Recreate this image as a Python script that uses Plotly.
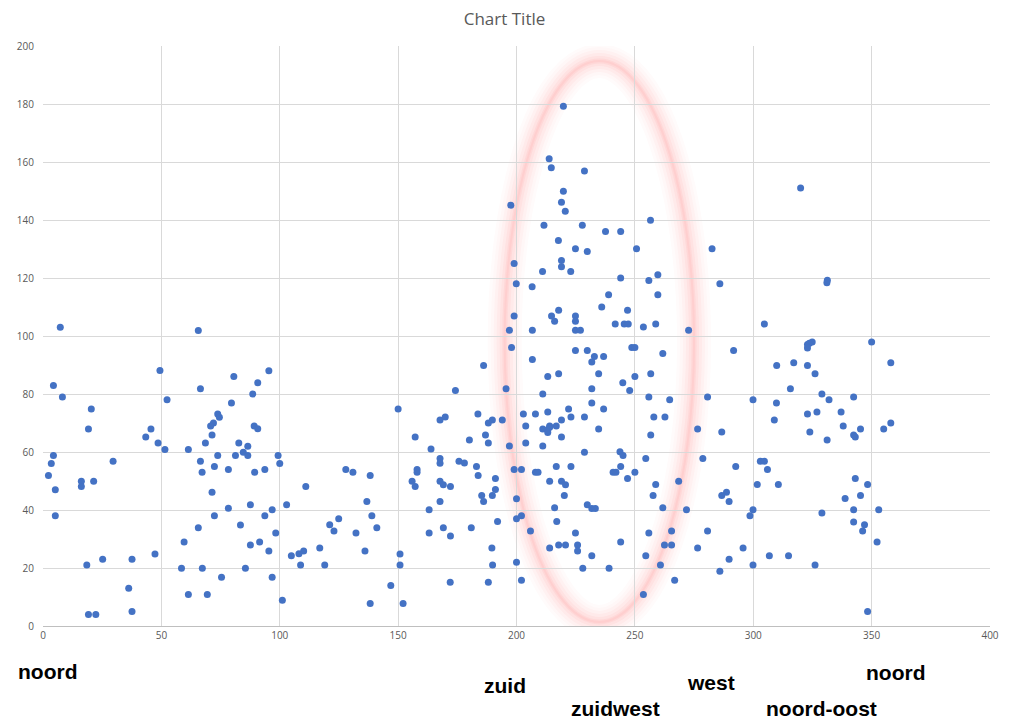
import plotly.graph_objects as go

# wind direction (degrees) vs value
x_vals = [
    7.3, 65.6, 49.4, 95.4, 4.4, 80.6, 90.7, 8.2, 66.5, 88.6, 52.4, 79.6, 20.4, 73.8, 74.5, 72, 70.8, 89.2, 90.7, 19.2,
    45.6, 43.4, 71.4, 48.6, 68.6, 82.7, 51.5, 61.4, 86.5, 84.6, 86.5, 81.3, 73.8, 4.4, 3.5, 29.6, 66.5, 72.4, 2.3, 78.3,
    93.7, 67.2, 89.4, 99.3, 100, 16.2, 16.2, 21.4, 5.2, 71.4, 5.2, 78.3, 87.6, 96.8, 93.7, 72.4, 83.4, 65.6, 98.3, 59.6,
    87.6, 91.5, 95.4, 47.3, 25.2, 37.6, 18.5, 58.5, 67.3, 85.5, 75.4, 96.8, 36.2, 61.4, 69.4, 37.6, 19.2, 22.3,
    199, 197, 197.9, 186.1, 195.6, 174.2, 150, 183.7, 167.7, 169.9, 188.1, 189.8, 194, 186.9, 157.2, 180.1, 188.1, 197, 163.9, 167.7,
    167.7, 175.7, 178, 183.1, 127.9, 130.9, 138.2, 158, 158, 183.8, 191.1, 199, 155.9, 157.2, 167.7, 169.1, 172.1, 111, 191.1, 189.8,
    185.3, 186.1, 167.7, 136.8, 102.9, 200, 163.1, 138.9, 124.9, 121.1, 122.9, 141, 132.2, 163.1, 169.1, 180.9, 172.1, 192, 200, 116.9,
    110.1, 108.1, 104.9, 136, 189.6, 108.8, 119, 150.8, 150.8, 189.9, 200, 172, 188.1, 146.9, 101.1, 138.2, 152.1,
    202.1, 217.8, 214.8, 216.1, 224.9, 224.9, 236, 246.9, 206.7, 224.9, 227, 241.7, 245.5, 247.2, 253.6, 258.8, 272.7, 291.7, 224.9, 229.9,
    232.9, 236.8, 231.8, 248.7, 250, 261.8, 206.7, 213.2, 217.8, 234.7, 244.9, 250, 256.7, 231.8, 247.8, 211.1, 255.9, 264.7, 280.7, 231.8,
    236.8, 222, 213.2, 202.9, 208, 223, 228.7, 258, 262.7, 219, 203.9, 216.8, 214, 211.1, 213.2, 213.2, 214, 234.7, 276.5, 286.7,
    219, 256.7, 203.9, 211.1, 228.7, 243.7, 245, 254.6, 278.7, 292.6, 216.8, 223, 244, 208, 209.1, 240.8, 242, 250, 246.9, 214,
    219, 220.7, 258.8, 268.5, 220.2, 257.7, 286.7, 288.7, 289.8, 216.1, 229.9, 231.8, 233.3, 261.8, 271.8, 202.1, 217, 205.9, 224.9, 255.9,
    265.5, 280.7, 214, 217.8, 220.7, 225.8, 225.8, 231.8, 244, 254.6, 262.5, 265.5, 276.5, 289.8, 295.7, 228, 239.1, 260.8, 285.9, 202.1,
    266.8, 253.6,
    219.8, 213.8, 214.7, 228.7, 219.8, 219, 220.6, 197.6, 211.6, 227.8, 256.6, 237.6, 244, 217.7, 224.9, 229.9, 250.7, 282.6, 199, 219,
    219, 211, 222.9, 199.9, 206.6, 244, 255.9, 259.7, 285.9, 238.9, 259.7,
    304.7, 350, 322.9, 323.7, 324.9, 322.9, 309.9, 317.1, 322.9, 326.1, 358.1, 315.7, 299.9, 309.8, 329, 332, 342.4, 322.9, 326.9, 337.1,
    308.9, 338, 345.3, 355.1, 358.1, 323.9, 342.4, 343.1, 331.2, 303, 304.7, 306, 301.7, 310.6, 343.1, 348.3, 338.8, 345.3, 299.9, 298.6,
    329, 342.4, 353, 342.4, 347, 346.2, 352.3, 306.8, 314.9, 299.9, 326.1, 348.3,
    320, 331.1, 331.3,
]
y_vals = [
    103, 101.9, 88.1, 88, 82.9, 86, 83.9, 79, 81.8, 80, 78, 76.9, 74.8, 73.1, 72, 70, 69, 69, 68, 67.9,
    67.9, 65.2, 65.9, 63.1, 63.1, 63.1, 60.9, 60.9, 62, 59.9, 58.8, 58.8, 58.8, 58.8, 56, 56.8, 56.8, 55, 51.9, 54,
    54, 53, 53, 58.8, 56, 49.9, 48.1, 49.9, 47, 46.1, 38, 40.6, 41.8, 40.1, 38, 38, 34.8, 33.9, 32.1, 29,
    27.9, 29, 25.9, 24.8, 23, 23, 21, 19.9, 19.9, 19.9, 16.8, 16.8, 13, 10.9, 10.9, 5, 4, 4,
    106.9, 102, 96, 89.8, 81.8, 81.2, 74.8, 73.1, 71, 72.1, 70, 71, 71, 65.9, 65.2, 64.1, 63.1, 62.1, 61, 57.8,
    56.1, 56.8, 56.2, 55, 54, 53, 51.9, 54, 53, 51.9, 50.9, 54, 49.9, 48.1, 49.9, 48.7, 48.1, 48.1, 47.1, 45,
    45, 42.9, 42.9, 42.9, 41.8, 43.9, 40.1, 38, 37, 34.9, 32.8, 33.9, 32.1, 32.1, 33.9, 33.9, 31, 36, 37, 26.9,
    25.9, 24.9, 24.2, 25.9, 26.9, 21, 21, 24.8, 21, 21, 22, 15.1, 15.1, 14, 8.9, 7.8, 7.8,
    54, 108.9, 106.9, 105.1, 106.9, 105.1, 110, 108.9, 102, 102, 102, 104.1, 104.1, 104.1, 103.1, 104.1, 102, 95, 95, 95,
    92.9, 92.9, 91, 96, 96, 94, 91.9, 86, 87, 87, 83.9, 86, 87, 81.8, 81.2, 80, 79, 78, 79, 76.9,
    74.8, 74.8, 73.8, 73.1, 73.1, 72.1, 72.1, 72.1, 72.1, 71, 69, 69, 69, 67.9, 67.7, 66.7, 68.5, 67.9, 67.9, 66.9,
    65.2, 65.9, 63.1, 62.1, 59.9, 60.1, 58.8, 57.8, 57.8, 55, 55, 55, 55, 53, 53, 53, 53, 53, 50.9, 49.9,
    49.9, 48.7, 48.8, 49.9, 45, 45, 45, 46.1, 42.9, 40.8, 41.8, 40.5, 40.5, 40.8, 40.1, 38, 36, 32.8, 32.1, 32.1,
    32.8, 32.8, 26.9, 27.9, 27.9, 27.9, 25.9, 24.2, 29, 24.2, 27.9, 27.9, 26.9, 23, 26.9, 19.9, 19.9, 21, 18.9, 15.8,
    15.8, 10.9,
    179.2, 161.1, 158, 156.9, 149.9, 146.1, 143, 145.1, 138.2, 138.2, 139.9, 136, 136, 132.9, 130.1, 129.1, 130.1, 130.1, 125, 126,
    123.9, 122.2, 122.2, 118, 117, 120, 119.1, 121.1, 118, 114.2, 114.2,
    104.1, 97.9, 97.1, 97.5, 97.9, 95.9, 89.8, 90.8, 89.8, 87, 90.8, 81.8, 78, 76.9, 80, 78, 79, 73.1, 73.8, 73.8,
    71, 69, 67.9, 67.9, 70, 66.9, 65.9, 65.2, 64.1, 56.8, 56.8, 54, 48.8, 48.8, 50.9, 48.8, 44, 45, 40.1, 38,
    39, 40.1, 40.1, 35.9, 34.9, 32.8, 29, 24.2, 24.2, 21, 21, 5,
    151, 118.4, 119.2,
]

x_ticks = [0, 50, 100, 150, 200, 250, 300, 350, 400]
y_ticks = [0, 20, 40, 60, 80, 100, 120, 140, 160, 180, 200]

direction_labels = ["noord", "zuid", "zuidwest", "west", "noord-oost", "noord"]
direction_x = [2, 195, 242, 282, 329, 360]          # positions along the x axis
direction_y = [-0.079, -0.103, -0.143, -0.097, -0.143, -0.081]  # paper offsets below axis

fig = go.Figure()

# soft glowing pink ellipse (drawn below the markers)
glow = [(34, 0.02), (28, 0.025), (22, 0.03), (16, 0.04), (10, 0.05), (5, 0.06), (2, 0.06)]
for w, op in glow:
    fig.add_shape(type="circle", xref="x", yref="y",
                  x0=195, x1=275, y0=1.4, y1=194.8,
                  line=dict(color="rgba(255,70,70,%s)" % op, width=w),
                  layer="below")

fig.add_trace(go.Scatter(
    x=x_vals, y=y_vals, mode="markers",
    marker=dict(color="#4472C4", size=7, line=dict(width=0)),
    showlegend=False,
))

for lab, lx, ly in zip(direction_labels, direction_x, direction_y):
    fig.add_annotation(text="<b>%s</b>" % lab, x=lx, y=ly, xref="x", yref="paper",
                       showarrow=False, xanchor="center", yanchor="middle",
                       font=dict(family="Liberation Sans, Arial, sans-serif",
                                 size=21, color="#000000"))

fig.update_layout(
    width=1009, height=726,
    margin=dict(l=43, r=19, t=46, b=100),
    paper_bgcolor="white", plot_bgcolor="white",
    title=dict(text="Chart Title", x=0.5, xanchor="center", y=0.974, yanchor="middle",
               font=dict(family="Open Sans, Lato, sans-serif", size=17, color="#595959")),
    font=dict(family="Open Sans, Lato, sans-serif", size=10, color="#595959"),
)
fig.update_xaxes(range=[0, 400], tickvals=x_ticks, showgrid=True, gridcolor="#d9d9d9", gridwidth=1,
                 zeroline=False, showline=True, linecolor="#bfbfbf", linewidth=1, automargin=False,
                 ticks="", tickfont=dict(size=10, color="#595959"), fixedrange=True)
fig.update_yaxes(range=[0, 200], tickvals=y_ticks, showgrid=True, gridcolor="#d9d9d9", gridwidth=1,
                 zeroline=False, showline=False, ticks="", ticklabelstandoff=8, automargin=False,
                 tickfont=dict(size=10, color="#595959"), fixedrange=True)

fig.write_html("out.html", config={"displayModeBar": False},
               post_script="document.body.style.margin='0';document.body.style.overflow='hidden';")
